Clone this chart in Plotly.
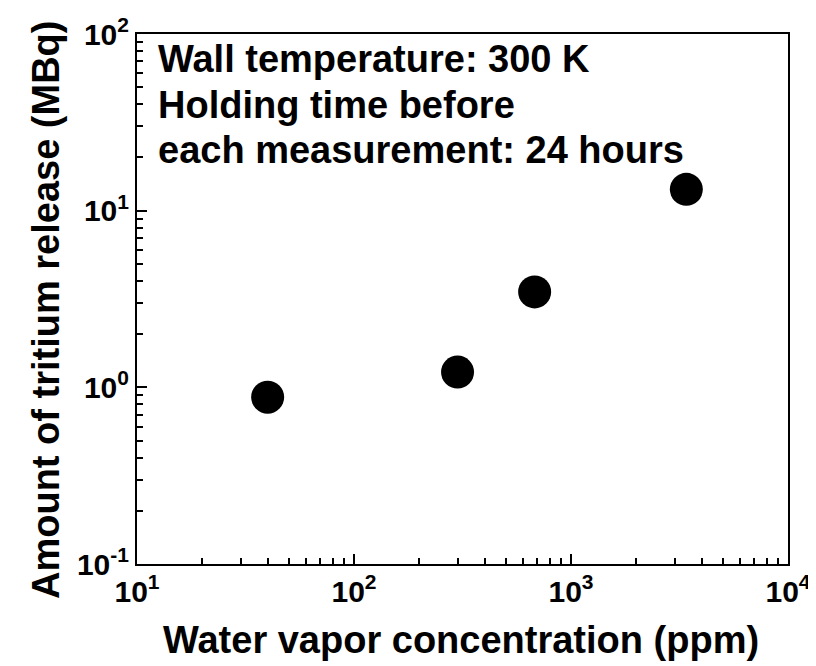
import plotly.graph_objects as go

water_ppm = [40, 300, 680, 3400]
tritium_mbq = [0.88, 1.22, 3.47, 13.2]

x_tickvals = [10, 100, 1000, 10000]
x_ticktext = ["10<sup>1</sup>", "10<sup>2</sup>", "10<sup>3</sup>", "10<sup>4</sup>"]
y_tickvals = [0.1, 1, 10, 100]
y_ticktext = ["10<sup>-1</sup>", "10<sup>0</sup>", "10<sup>1</sup>", "10<sup>2</sup>"]

info_lines = ["Wall temperature: 300 K", "Holding time before", "each measurement: 24 hours"]

FONT = "Liberation Sans, Arial, sans-serif"

x_minor = [m * 10 ** d for d in range(1, 4) for m in range(2, 10)]
y_minor = [m * 10.0 ** d for d in range(-1, 2) for m in range(2, 10)]

# page body has an 8px default margin; the figure is sized to fit the 816x666 window
W, H = 808, 658
L, R, T, B = 129, 28, 26, 102
PW, PH = W - L - R, H - T - B


def px(xp):
    return (xp - 8 - L) / PW


def py(yp):
    return (H - B - (yp - 8)) / PH


fig = go.Figure()
fig.add_trace(go.Scatter(
    x=water_ppm, y=tritium_mbq, mode="markers",
    marker=dict(size=33, color="black"), showlegend=False, cliponaxis=False))

axis_common = dict(
    type="log", showgrid=False, zeroline=False, automargin=False,
    showline=True, linecolor="black", linewidth=2, mirror=True,
    ticks="inside", ticklen=10, tickwidth=2, tickcolor="black",
    tickfont=dict(family=FONT, size=30, color="black", weight="bold"),
    tickmode="array", ticklabeloverflow="allow",
)

fig.update_xaxes(range=[1, 4], tickvals=x_tickvals, ticktext=x_ticktext,
                 minor=dict(tickmode="array", tickvals=x_minor, ticks="inside",
                            ticklen=6, tickwidth=2, tickcolor="black", showgrid=False),
                 **axis_common)
fig.update_yaxes(range=[-1, 2], tickvals=y_tickvals, ticktext=y_ticktext,
                 minor=dict(tickmode="array", tickvals=y_minor, ticks="inside",
                            ticklen=6, tickwidth=2, tickcolor="black", showgrid=False),
                 **axis_common)

annotations = []
for i, line in enumerate(info_lines):
    annotations.append(dict(
        text=line, xref="paper", yref="paper", x=px(156),
        y=py(59 + 45.5 * i),
        xanchor="left", yanchor="middle", showarrow=False,
        font=dict(family=FONT, size=38, color="black", weight="bold")))

annotations.append(dict(
    text="Water vapor concentration (ppm)", xref="paper", yref="paper",
    x=px(461), y=py(640), xanchor="center", yanchor="middle",
    showarrow=False, font=dict(family=FONT, size=38, color="black", weight="bold")))
annotations.append(dict(
    text="Amount of tritium release (MBq)", xref="paper", yref="paper",
    x=px(46), y=py(310), xanchor="center", yanchor="middle",
    textangle=-90, showarrow=False,
    font=dict(family=FONT, size=38, color="black", weight="bold")))

fig.update_layout(
    width=W, height=H,
    margin=dict(l=L, r=R, t=T, b=B),
    paper_bgcolor="white", plot_bgcolor="white",
    annotations=annotations,
)

fig.write_html("out.html")
